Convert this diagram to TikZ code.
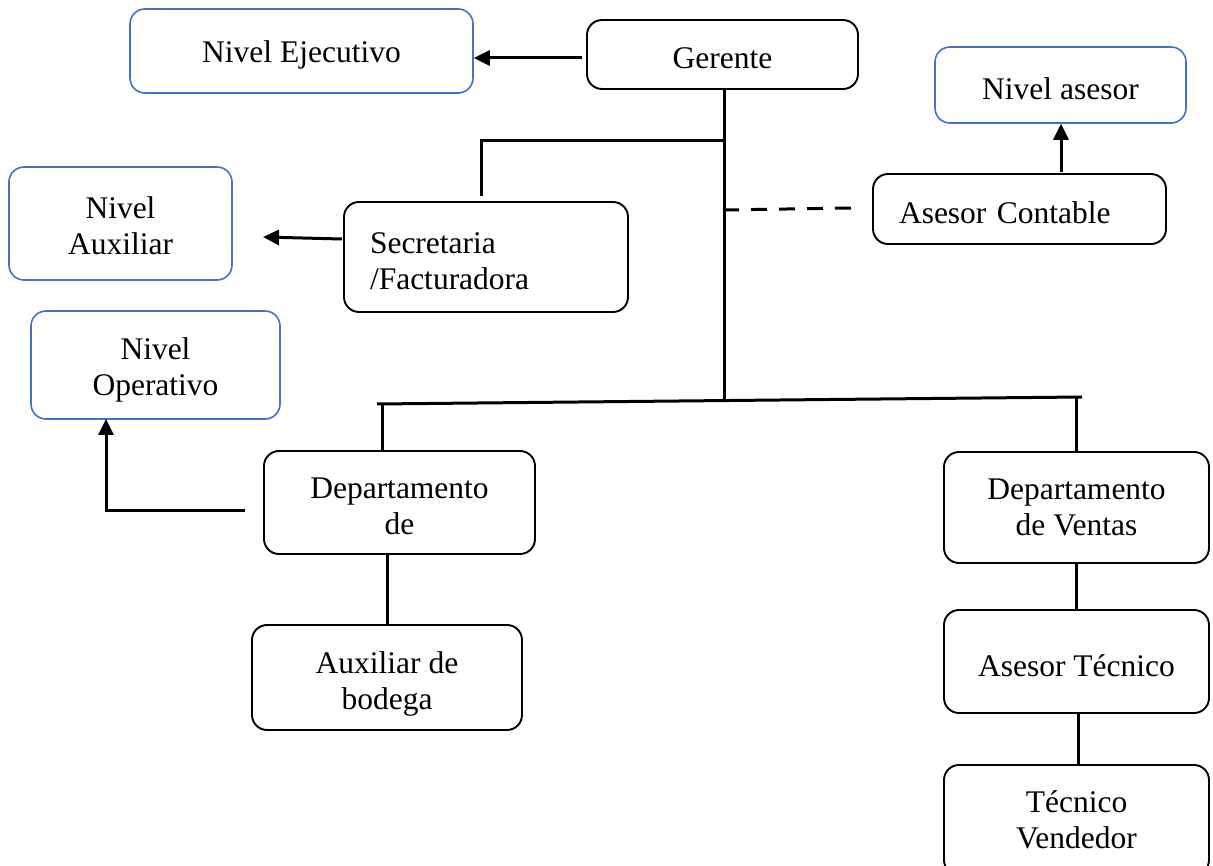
\documentclass[tikz,border=0pt]{standalone}
\usepackage{fontspec}
\setmainfont{Liberation Serif}
\usetikzlibrary{arrows.meta}
\definecolor{levelblue}{HTML}{4472C4}
\newdimen\boxtoppad
\boxtoppad=30pt
\begin{document}
\begin{tikzpicture}[x=1pt,y=-1pt,
  toppad/.code={\global\boxtoppad=#1},
  box/.style={draw=black,line width=1.9pt,rounded corners=15pt,align=center,
    font=\fontsize{31.5}{36}\selectfont,inner sep=0pt,toppad=30pt,
    execute at begin node={\vrule height \boxtoppad depth 0pt width 0pt},
    execute at end node={\vrule height 0pt depth 1pt width 0pt}},
  leftbox/.style={box,align=left,inner xsep=26pt},
  level/.style={box,draw=levelblue,line width=1.6pt},
  link/.style={line width=3pt},
  arr/.style={link,-{Triangle[length=16pt,width=15pt]}}]
\useasboundingbox (0,0) rectangle (1213,866);

% level boxes (blue)
\node[level,minimum width=343pt,minimum height=84pt] (ejec) at (301.5,51) {Nivel Ejecutivo};
\node[level,minimum width=251pt,minimum height=76pt] (ases) at (1060.5,85) {Nivel asesor};
\node[level,toppad=64pt,minimum width=223pt,minimum height=113pt] (auxl) at (120.5,223.5) {Nivel\\Auxiliar};
\node[level,toppad=68pt,minimum width=249pt,minimum height=108pt] (oper) at (155.5,365) {Nivel\\Operativo};

% positions (black)
\node[box,minimum width=271pt,minimum height=69pt] (ger) at (722.5,54.5) {Gerente};
\node[leftbox,text width=241pt,minimum height=70pt] (cont) at (1019.5,209) {Asesor Contable};
\node[leftbox,text width=232pt,minimum height=110pt] (sec) at (486,257) {Secretaria\\/Facturadora};
\node[box,toppad=64pt,minimum width=271pt,minimum height=103pt] (dep) at (399.5,502.5) {Departamento\\de};
\node[box,toppad=70pt,minimum width=270pt,minimum height=105pt] (bod) at (387,677.5) {Auxiliar de\\bodega};
\node[box,minimum width=265pt,minimum height=111pt] (ven) at (1076.5,507.5) {Departamento\\de Ventas};
\node[box,minimum width=265pt,minimum height=103pt] (tec) at (1076.5,661.5) {Asesor Técnico};
\node[box,minimum width=265pt,minimum height=110pt] (vend) at (1076.5,820) {Técnico\\Vendedor};

% junction points of the line tree
\coordinate (jSec) at (724,141);
\coordinate (jCont) at (723,210);
\coordinate (jBar) at (724,400);
\coordinate (secTop) at (481,196);
\coordinate (contIn) at (851,208);
\coordinate (barL) at (377,404);
\coordinate (barR) at (1082,397);
\coordinate (depDrop) at (382,404);
\coordinate (venDrop) at (1076,397);
\coordinate (gerOut) at (582,58);
\coordinate (contOut) at (1061,172);
\coordinate (secOut) at (342,239);
\coordinate (depOut) at (245,510);
\coordinate (operIn) at (106,419);

% hierarchy lines
\draw[link] (ger.south -| jSec) -- (jBar);
\draw[link] (secTop) -- (secTop |- jSec) -- (jSec);
\draw[link,dash pattern=on 16pt off 12pt] (jCont) -- (contIn);
\draw[link] (barL) -- (barR);
\draw[link] (depDrop) -- (depDrop |- dep.north);
\draw[link] (venDrop) -- (venDrop |- ven.north);
\draw[link] (dep.south -| 387,0) -- (bod.north -| 387,0);
\draw[link] (ven.south) -- (tec.north);
\draw[link] (tec.south -| 1078,0) -- (vend.north -| 1078,0);

% level arrows
\draw[arr] (gerOut) -- (ejec.east |- gerOut);
\draw[arr] (contOut) -- (contOut |- ases.south);
\draw[arr] (secOut) -- (263,237);
\draw[arr] (depOut) -- (operIn |- depOut) -- (operIn);
\end{tikzpicture}
\end{document}
